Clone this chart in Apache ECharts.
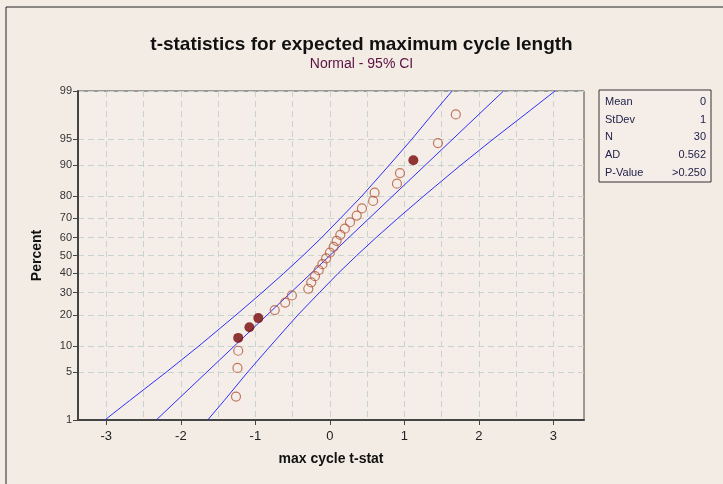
<!DOCTYPE html>
<html>
<head>
<meta charset="utf-8">
<script src="https://cdn.jsdelivr.net/npm/echarts@6/dist/echarts.min.js"></script>
<style>
	html, body { margin: 0; padding: 0; background: #f3ece5; }
	#myChart { width: 723px; height: 484px; }
</style>
</head>
<body>
<div id="myChart"></div>
<script>
	// axis ticks
	var percentTicks = [1, 5, 10, 20, 30, 40, 50, 60, 70, 80, 90, 95, 99];
	var xTicks = [-3, -2, -1, 0, 1, 2, 3];
	var xGridLines = [-3, -2.5, -2, -1.5, -1, -0.5, 0, 0.5, 1, 1.5, 2, 2.5, 3];

	// data points (percent = median rank)
	var pointPct = [2.3, 5.6, 8.9, 12.2, 15.5, 18.8, 22.0, 25.3, 28.6, 31.9, 35.2, 38.5, 41.8, 45.1, 48.4,
		51.6, 54.9, 58.2, 61.5, 64.8, 68.1, 71.4, 74.7, 78.0, 81.3, 84.5, 87.8, 91.1, 94.4, 97.7];
	var pointX = [-1.26, -1.24, -1.23, -1.23, -1.08, -0.96, -0.74, -0.60, -0.51, -0.29, -0.25, -0.20, -0.15, -0.10, -0.05,
		0.00, 0.05, 0.09, 0.14, 0.20, 0.27, 0.36, 0.43, 0.58, 0.60, 0.90, 0.94, 1.12, 1.45, 1.69];
	var highlighted = [4, 5, 6, 28]; // 1-based, drawn filled

	// fitted line and 95% CI
	var fitPct = [1, 99];
	var fitX = [-2.33, 2.33];
	var bandPct = [1, 2, 5, 10, 20, 30, 40, 50, 60, 70, 80, 90, 95, 98, 99];
	var lowerX = [-3.02, -2.69, -2.19, -1.76, -1.26, -0.91, -0.62, -0.36, -0.11, 0.14, 0.43, 0.80, 1.10, 1.42, 1.64];
	var upperX = [-1.64, -1.42, -1.10, -0.80, -0.43, -0.14, 0.11, 0.36, 0.62, 0.91, 1.26, 1.76, 2.19, 2.69, 3.02];

	// legend table
	var statNames = ['Mean', 'StDev', 'N', 'AD', 'P-Value'];
	var statValues = ['0', '1', '30', '0.562', '>0.250'];

	// probability scale: percent -> normal quantile (Acklam)
	function probit(pct) {
		var p = pct / 100;
		var a = [-39.69683028665376, 220.9460984245205, -275.9285104469687, 138.3577518672690, -30.66479806614716, 2.506628277459239];
		var b = [-54.47609879822406, 161.5858368580409, -155.6989798598866, 66.80131188771972, -13.28068155288572];
		var c = [-0.007784894002430293, -0.3223964580411365, -2.400758277161838, -2.549732539343734, 4.374664141464968, 2.938163982698783];
		var d = [0.007784695709041462, 0.3224671290700398, 2.445134137142996, 3.754408661907416];
		var q, r;
		if (p < 0.02425) {
			q = Math.sqrt(-2 * Math.log(p));
			return (((((c[0] * q + c[1]) * q + c[2]) * q + c[3]) * q + c[4]) * q + c[5]) / ((((d[0] * q + d[1]) * q + d[2]) * q + d[3]) * q + 1);
		}
		if (p > 1 - 0.02425) {
			q = Math.sqrt(-2 * Math.log(1 - p));
			return -(((((c[0] * q + c[1]) * q + c[2]) * q + c[3]) * q + c[4]) * q + c[5]) / ((((d[0] * q + d[1]) * q + d[2]) * q + d[3]) * q + 1);
		}
		q = p - 0.5;
		r = q * q;
		return (((((a[0] * r + a[1]) * r + a[2]) * r + a[3]) * r + a[4]) * r + a[5]) * q / (((((b[0] * r + b[1]) * r + b[2]) * r + b[3]) * r + b[4]) * r + 1);
	}

	function pairs(xs, pcts) {
		return xs.map(function (x, i) { return [x, probit(pcts[i])]; });
	}

	var openPts = [], filledPts = [];
	for (var i = 0; i < pointX.length; i++) {
		var pt = [pointX[i], probit(pointPct[i])];
		if (highlighted.indexOf(i + 1) >= 0) filledPts.push(pt); else openPts.push(pt);
	}

	var yTickVals = percentTicks.map(probit);
	var xMin = -3.38, xMax = 3.41;
	var gridDash = { color: '#c6d3d0', width: 1, type: [6, 4] };
	var blue = '#2f2ff5';
	var font = 'Liberation Sans';

	var myChart = echarts.init(document.getElementById('myChart'), null, { renderer: 'canvas' });

	var legendEls = [{
		type: 'rect',
		shape: { x: 599, y: 90, width: 112, height: 92 },
		style: { fill: '#f5eee8', stroke: '#333', lineWidth: 1 }
	}];
	statNames.forEach(function (name, k) {
		legendEls.push({
			type: 'text', x: 605, y: 102 + k * 17.7,
			style: { text: name, font: '11px ' + font, fill: '#22224a', textVerticalAlign: 'middle' }
		});
		legendEls.push({
			type: 'text', x: 706, y: 102 + k * 17.7,
			style: { text: statValues[k], font: '11px ' + font, fill: '#22224a', textAlign: 'right', textVerticalAlign: 'middle' }
		});
	});
	legendEls.push({
		type: 'rect',
		shape: { x: 6, y: 7, width: 730, height: 490 },
		style: { fill: 'none', stroke: '#222', lineWidth: 1 }
	});

	myChart.setOption({
		backgroundColor: '#f3ece5',
		animation: false,
		title: {
			text: 't-statistics for expected maximum cycle length',
			subtext: 'Normal - 95% CI',
			left: 'center',
			top: 30,
			itemGap: 3,
			textStyle: { fontFamily: font, fontWeight: 'bold', fontSize: 19, color: '#111' },
			subtextStyle: { fontFamily: font, fontSize: 14, color: '#5c1040' }
		},
		grid: {
			left: 78, top: 91, right: 139, bottom: 64,
			show: true, backgroundColor: '#f5eee8', borderColor: '#444', borderWidth: 1
		},
		xAxis: [{
			type: 'value',
			min: xMin, max: xMax,
			name: 'max cycle t-stat',
			nameLocation: 'middle',
			nameGap: 32,
			nameTextStyle: { fontFamily: font, fontWeight: 'bold', fontSize: 14, color: '#111' },
			axisLine: { onZero: false, lineStyle: { color: '#444', width: 2 } },
			axisTick: { customValues: xTicks, length: 5, lineStyle: { color: '#444' } },
			axisLabel: { customValues: xTicks, fontFamily: font, fontSize: 13, color: '#222', margin: 10 },
			splitLine: { show: false }
		}, {
			type: 'value',
			min: xMin, max: xMax,
			position: 'bottom',
			axisLine: { show: false },
			axisTick: { show: false, customValues: xGridLines },
			axisLabel: { show: false, customValues: xGridLines },
			splitLine: { show: true, lineStyle: gridDash }
		}],
		yAxis: {
			type: 'value',
			min: probit(1), max: probit(99),
			name: 'Percent',
			nameLocation: 'middle',
			nameGap: 34,
			nameTextStyle: { fontFamily: font, fontWeight: 'bold', fontSize: 14, color: '#111' },
			axisLine: { onZero: false, lineStyle: { color: '#444', width: 2 } },
			axisTick: { customValues: yTickVals, length: 5, lineStyle: { color: '#444' } },
			axisLabel: {
				customValues: yTickVals,
				fontFamily: font, fontSize: 11, color: '#333', margin: 6,
				formatter: function (v) {
					var best = percentTicks[0];
					percentTicks.forEach(function (p) {
						if (Math.abs(probit(p) - v) < Math.abs(probit(best) - v)) best = p;
					});
					return String(best);
				}
			},
			splitLine: { show: true, lineStyle: gridDash }
		},
		series: [{
			type: 'line', data: pairs(lowerX, bandPct), showSymbol: false,
			lineStyle: { color: blue, width: 1 }, z: 3
		}, {
			type: 'line', data: pairs(upperX, bandPct), showSymbol: false,
			lineStyle: { color: blue, width: 1 }, z: 3
		}, {
			type: 'line', data: pairs(fitX, fitPct), showSymbol: false,
			lineStyle: { color: blue, width: 1 }, z: 3
		}, {
			type: 'scatter', data: openPts, symbol: 'circle', symbolSize: 9,
			itemStyle: { color: 'rgba(0,0,0,0)', borderColor: '#b35a3c', borderWidth: 1.2 }, z: 4
		}, {
			type: 'scatter', data: filledPts, symbol: 'circle', symbolSize: 10,
			itemStyle: { color: '#760808' }, z: 5
		}],
		graphic: legendEls
	});
</script>
</body>
</html>
